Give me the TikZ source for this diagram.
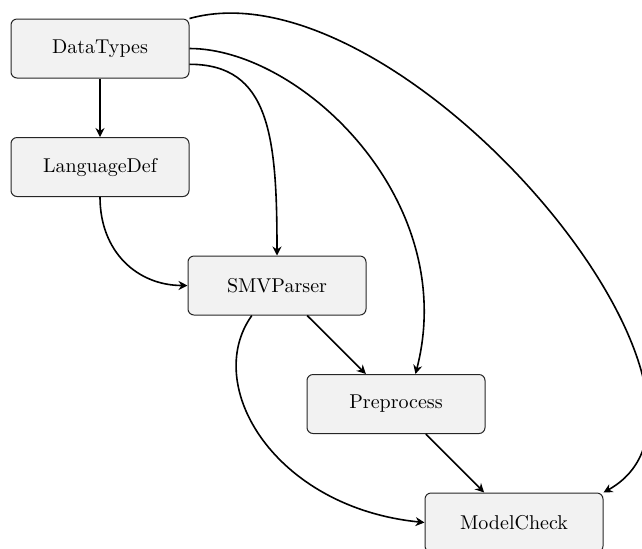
\documentclass[tikz,border=0pt]{standalone}
\usetikzlibrary{arrows.meta,calc}
\begin{document}
\begin{tikzpicture}[x=0.5pt,y=-0.5pt,
  box/.style={draw=black!85, fill=black!5, rounded corners=3pt, minimum width=89pt, minimum height=29.5pt, inner sep=0pt, line width=0.5pt},
  link/.style={thick, -{Stealth[length=4.5pt,width=4.5pt,inset=1.5pt]}}]
\useasboundingbox (0,0) rectangle (642,548);
\node[box] (DataTypes) at (100,48.5) {DataTypes};
\node[box] (LanguageDef) at (100,167) {LanguageDef};
\node[box] (SMVParser) at (277,285.5) {SMVParser};
\node[box] (Preprocess) at (396,404) {Preprocess};
\node[box] (ModelCheck) at (514,522.5) {ModelCheck};

\draw[link] (DataTypes) -- (LanguageDef);
\draw[link] (LanguageDef.south) .. controls ($(LanguageDef.south)+(0,55)$) and ($(SMVParser.west)+(-50,0)$) .. (SMVParser.west);
\draw[link] (DataTypes.-10.5) .. controls ($(DataTypes.-10.5)+(80,0)$) and ($(SMVParser.north)+(0,-120)$) .. (SMVParser.north);
\draw[link] (DataTypes.east) .. controls ($(DataTypes.east)+(111,0)$) and ($(Preprocess.57)+(45,-174)$) .. (Preprocess.57);
\draw[link] (DataTypes.north east) .. controls ($(DataTypes.north east)+(211,-59)$) and ($(ModelCheck.north east)+(167,-93)$) .. (ModelCheck.north east);
\draw[link] (SMVParser) -- (Preprocess);
\draw[link] (SMVParser.-130.3) .. controls ($(SMVParser.-130.3)+(-50,70)$) and ($(ModelCheck.west)+(-150,-15)$) .. (ModelCheck.west);
\draw[link] (Preprocess) -- (ModelCheck);
\end{tikzpicture}
\end{document}
